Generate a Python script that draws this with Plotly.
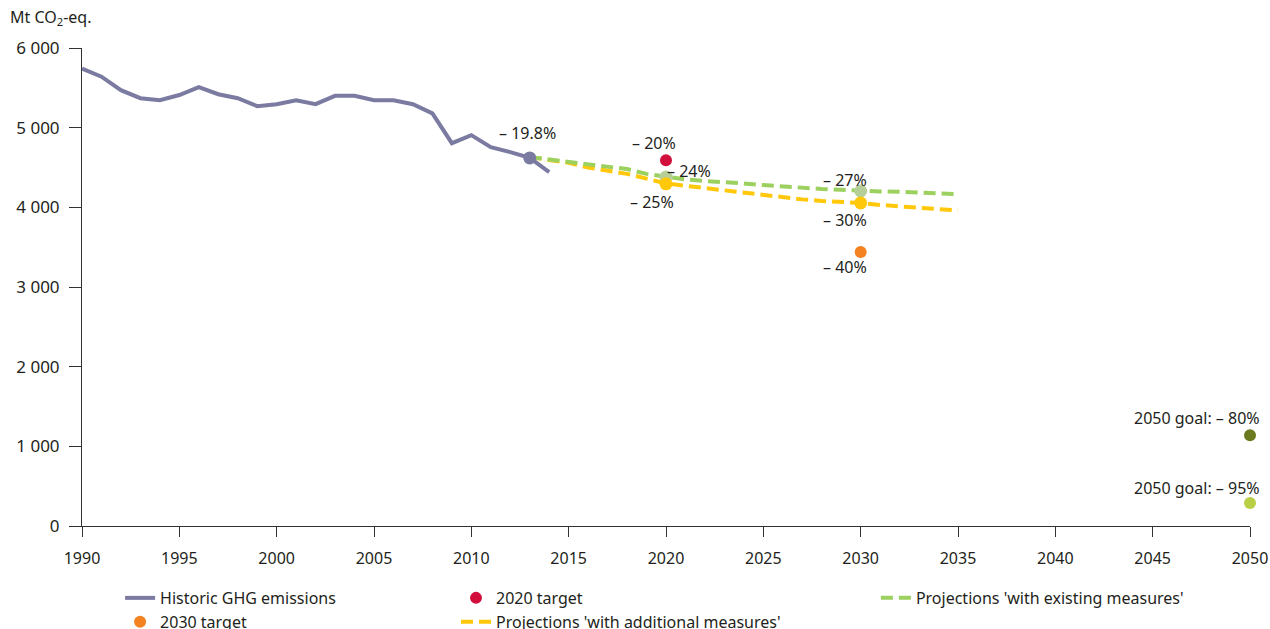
import plotly.graph_objects as go

hist_years = list(range(1990, 2015))
hist_vals = [5740, 5640, 5470, 5370, 5345, 5410, 5510, 5420, 5370, 5270, 5295, 5345, 5295,
             5400, 5400, 5345, 5345, 5295, 5180, 4805, 4906, 4755, 4693, 4620, 4442]

proj_years = list(range(2013, 2036))
wem_vals = [4630, 4600, 4570, 4530, 4500, 4480, 4420, 4380, 4350, 4330, 4320, 4300, 4280,
            4260, 4250, 4230, 4220, 4205, 4200, 4195, 4180, 4175, 4165]
wam_vals = [4630, 4600, 4560, 4500, 4460, 4420, 4360, 4300, 4270, 4240, 4220, 4190, 4160,
            4130, 4100, 4080, 4070, 4055, 4030, 4010, 4000, 3980, 3960]

base_year = [2013]
base_val = [4620]
target2020_year = [2020]
target2020_val = [4590]
target2030_year = [2030]
target2030_val = [3440]
wem_marker_years = [2020, 2030]
wem_marker_vals = [4380, 4205]
wam_marker_years = [2020, 2030]
wam_marker_vals = [4295, 4055]
goal80_year = [2050]
goal80_val = [1140]
goal95_year = [2050]
goal95_val = [290]

label_texts = ["– 19.8%", "– 20%", "– 24%", "– 25%", "– 27%", "– 30%", "– 40%"]
label_x = [2012.9, 2019.4, 2021.2, 2019.3, 2029.2, 2029.2, 2029.2]
label_y = [4930, 4805, 4455, 4065, 4340, 3840, 3250]

goal_texts = ["2050 goal: – 80%", "2050 goal: – 95%"]
goal_label_y = [1355, 477]

FONT = "Noto Sans"
TXT = "#231F20"

fig = go.Figure()

fig.add_trace(go.Scatter(x=hist_years, y=hist_vals, mode="lines", name="Historic GHG emissions",
                         line=dict(color="#7B7AA1", width=4), legend="legend", legendrank=1))
fig.add_trace(go.Scatter(x=target2030_year, y=target2030_val, mode="markers", name="2030 target",
                         marker=dict(color="#F58220", size=12), legend="legend", legendrank=2))
fig.add_trace(go.Scatter(x=target2020_year, y=target2020_val, mode="markers", name="2020 target",
                         marker=dict(color="#D20F3C", size=12), legend="legend2", legendrank=1))
fig.add_trace(go.Scatter(x=proj_years, y=wam_vals, mode="lines", name="Projections 'with additional measures'",
                         line=dict(color="#FFC80A", width=4, dash="12px,6px"), legend="legend2", legendrank=2))
fig.add_trace(go.Scatter(x=proj_years, y=wem_vals, mode="lines", name="Projections 'with existing measures'",
                         line=dict(color="#9CD160", width=4, dash="12px,6px"), legend="legend3"))
fig.add_trace(go.Scatter(x=wem_marker_years, y=wem_marker_vals, mode="markers", showlegend=False,
                         marker=dict(color="#B6CE98", size=13)))
fig.add_trace(go.Scatter(x=wam_marker_years, y=wam_marker_vals, mode="markers", showlegend=False,
                         marker=dict(color="#FFC80A", size=13)))
fig.add_trace(go.Scatter(x=base_year, y=base_val, mode="markers", showlegend=False,
                         marker=dict(color="#7B7AA1", size=13)))
fig.add_trace(go.Scatter(x=goal80_year, y=goal80_val, mode="markers", showlegend=False,
                         marker=dict(color="#6B7A1F", size=12), cliponaxis=False))
fig.add_trace(go.Scatter(x=goal95_year, y=goal95_val, mode="markers", showlegend=False,
                         marker=dict(color="#B9CF45", size=12), cliponaxis=False))

for t, x, y in zip(label_texts, label_x, label_y):
    fig.add_annotation(x=x, y=y, text=t, showarrow=False, xanchor="center", yanchor="middle",
                       font=dict(size=16, color=TXT, family=FONT))

for t, y in zip(goal_texts, goal_label_y):
    fig.add_annotation(x=2050, y=y, text=t, showarrow=False, xanchor="right", xshift=12,
                       yanchor="middle", font=dict(size=16, color=TXT, family=FONT))

fig.add_annotation(xref="paper", yref="paper", x=-0.0633, y=1.063, xanchor="left", yanchor="middle",
                   text="Mt CO<sub>2</sub>-eq.", showarrow=False,
                   font=dict(size=16, color=TXT, family=FONT))

fig.update_xaxes(range=[1990, 2050], tickvals=list(range(1990, 2051, 5)), showgrid=False,
                 zeroline=False, showline=True, linecolor="#333333", linewidth=1,
                 ticks="outside", ticklen=10, tickcolor="#333333", automargin=False,
                 ticklabelstandoff=8,
                 tickfont=dict(size=16, color=TXT, family=FONT))
fig.update_yaxes(range=[0, 6000], tickvals=[0, 1000, 2000, 3000, 4000, 5000, 6000],
                 ticktext=["0", "1 000", "2 000", "3 000", "4 000", "5 000", "6 000"],
                 showgrid=False, zeroline=False, showline=True, linecolor="#333333", linewidth=1,
                 ticks="outside", ticklen=12, tickcolor="#333333", automargin=False,
                 ticklabelstandoff=6,
                 tickfont=dict(size=17, color=TXT, family=FONT))

leg_common = dict(orientation="v", yanchor="top", xanchor="left", y=-0.115,
                  font=dict(size=16, color=TXT, family=FONT), itemwidth=30,
                  bgcolor="rgba(0,0,0,0)", tracegroupgap=0)

fig.update_layout(
    width=1270, height=629,
    margin=dict(l=82, r=20, t=48, b=103, autoexpand=False),
    plot_bgcolor="white", paper_bgcolor="white",
    font=dict(family=FONT, color=TXT, size=16),
    legend=dict(x=0.0326, **leg_common),
    legend2=dict(x=0.3202, **leg_common),
    legend3=dict(x=0.6797, **leg_common),
)

fig.write_html("out.html", config={"displayModeBar": False},
               post_script="document.body.style.margin='0';document.body.style.overflow='hidden';")
